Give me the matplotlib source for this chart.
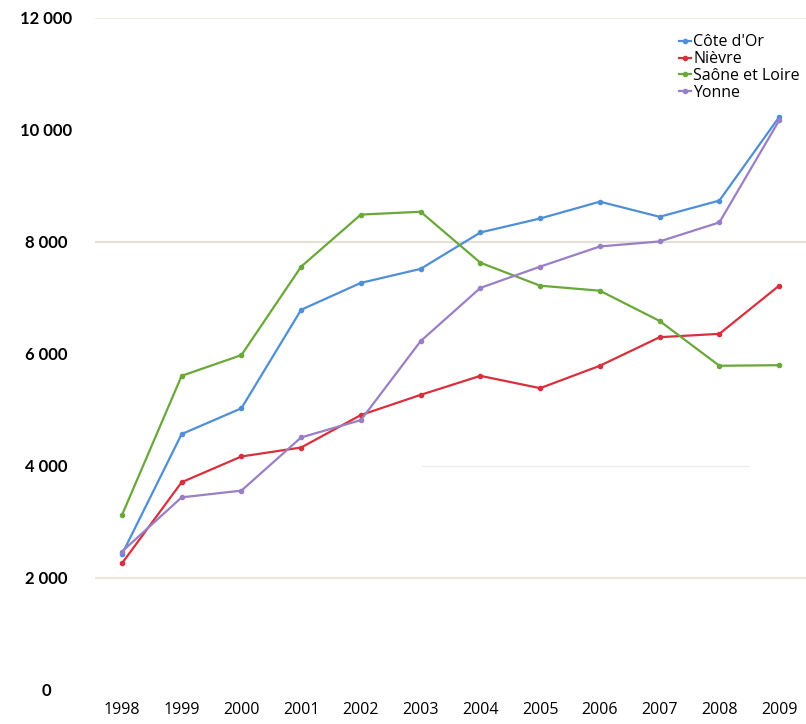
import matplotlib
matplotlib.use("Agg")
import matplotlib.pyplot as plt
from matplotlib.ticker import FuncFormatter

years = [1998, 1999, 2000, 2001, 2002, 2003, 2004, 2005, 2006, 2007, 2008, 2009]
cote_dor = [2420, 4570, 5030, 6790, 7270, 7520, 8170, 8420, 8720, 8450, 8740, 10230]
nievre = [2260, 3710, 4170, 4330, 4910, 5270, 5610, 5390, 5790, 6300, 6360, 7220]
saone_loire = [3120, 5610, 5980, 7560, 8490, 8540, 7630, 7220, 7130, 6590, 5790, 5800]
yonne = [2470, 3440, 3560, 4510, 4820, 6230, 7180, 7560, 7920, 8010, 8350, 10170]

series = [
    ("Côte d'Or", cote_dor, "#4f8fd8"),
    ("Nièvre", nievre, "#d8303c"),
    ("Saône et Loire", saone_loire, "#6aa83a"),
    ("Yonne", yonne, "#9a7fc6"),
]

plt.rcParams["font.family"] = ["Open Sans", "DejaVu Sans"]

fig = plt.figure(figsize=(8.06, 7.24), dpi=100)
ax = fig.add_axes([95 / 806, (724 - 690) / 724, 711 / 806, 672 / 724])

# lignes de fond (faibles, comme sur l'original)
for y, c in [(12000, "#f1efe2"), (8000, "#e4e1d6"), (2000, "#ebe8d8")]:
    ax.axhline(y, color=c, lw=1.6, zorder=0)
ax.axhline(4000, xmin=0.46, xmax=0.92, color="#ececec", lw=1.0, zorder=0)

for name, vals, col in series:
    ax.plot(years, vals, color=col, lw=1.6, marker="o", ms=3, label=name)

ax.set_xlim(1997.55, 2009.45)
ax.set_ylim(0, 12000)
ax.set_xticks(years)
ax.set_yticks(range(0, 12001, 2000))
ax.yaxis.set_major_formatter(FuncFormatter(lambda v, p: f"{int(v):,}".replace(",", " ")))

for s in ax.spines.values():
    s.set_visible(False)
ax.tick_params(length=0)
ax.tick_params(axis="x", pad=9, labelsize=11.5)
ax.tick_params(axis="y", pad=35, labelsize=12)
for t in ax.get_yticklabels():
    t.set_horizontalalignment("center")
    t.set_fontfamily(["Lato", "DejaVu Sans"])
    t.set_fontweight("bold")

ax.legend(loc="upper left", bbox_to_anchor=(0.812, 0.985), frameon=False,
          handlelength=0.8, handletextpad=0.1, labelspacing=0.05,
          borderaxespad=0, fontsize=11.5)

fig.savefig("out.png", dpi=100)
